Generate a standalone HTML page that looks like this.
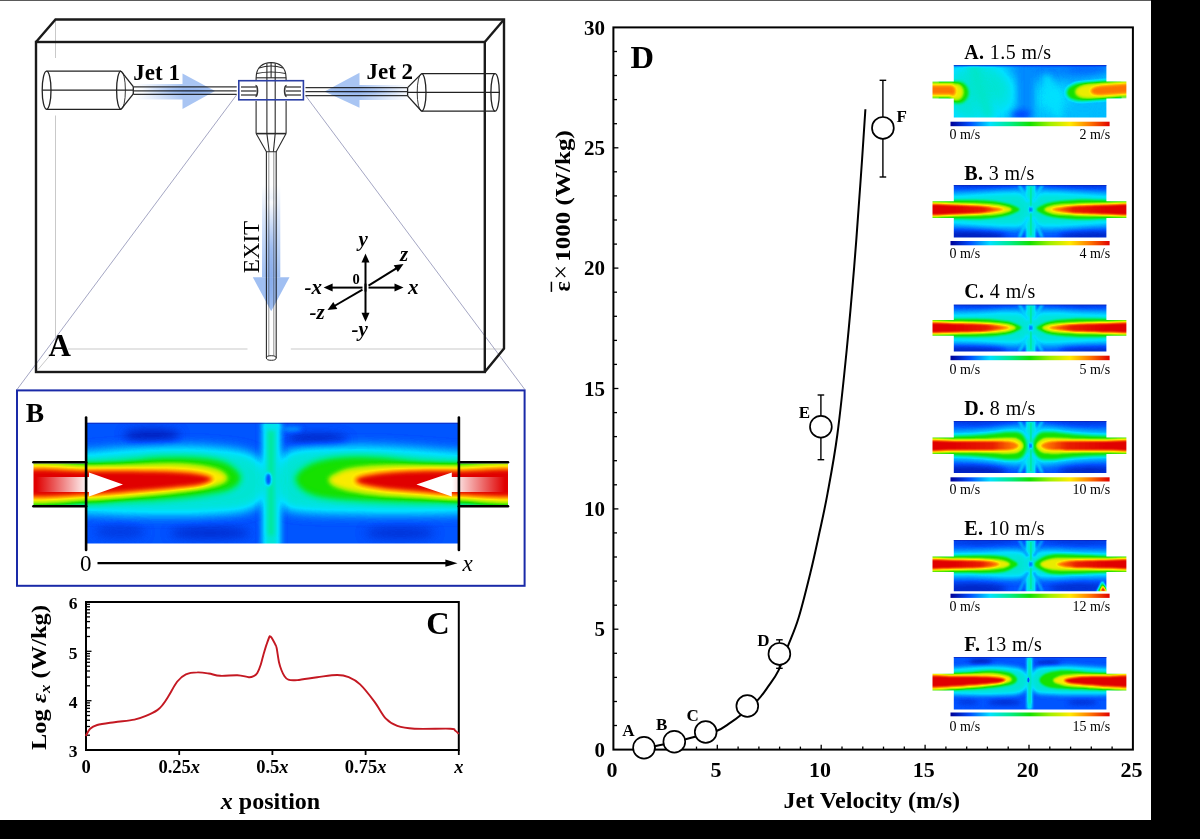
<!DOCTYPE html>
<html><head><meta charset="utf-8"><title>Figure</title>
<style>
html,body{margin:0;padding:0;background:#000;overflow:hidden}
svg{display:block}
text{font-family:"Liberation Serif","Times New Roman",serif}
.b{font-weight:bold}
.i{font-style:italic}
</style></head><body>
<svg width="1200" height="839" viewBox="0 0 1200 839">

<defs>
<filter id="cm" color-interpolation-filters="sRGB" x="0" y="0" width="100%" height="100%"><feComponentTransfer><feFuncR type="table" tableValues="0.000 0.000 0.000 0.000 0.078 0.627 1.000 1.000 0.882"/><feFuncG type="table" tableValues="0.000 0.314 0.882 0.922 0.882 0.941 0.922 0.471 0.000"/><feFuncB type="table" tableValues="0.588 1.000 1.000 0.549 0.000 0.000 0.000 0.000 0.000"/></feComponentTransfer></filter>
<filter id="b0_6ins" color-interpolation-filters="sRGB" filterUnits="userSpaceOnUse" x="-45" y="-25" width="265" height="110"><feGaussianBlur stdDeviation="0.6"/></filter>
<filter id="b0_6pa" color-interpolation-filters="sRGB" filterUnits="userSpaceOnUse" x="100" y="50" width="330" height="280"><feGaussianBlur stdDeviation="0.6"/></filter>
<filter id="b0_8ins" color-interpolation-filters="sRGB" filterUnits="userSpaceOnUse" x="-45" y="-25" width="265" height="110"><feGaussianBlur stdDeviation="0.8"/></filter>
<filter id="b1ins" color-interpolation-filters="sRGB" filterUnits="userSpaceOnUse" x="-45" y="-25" width="265" height="110"><feGaussianBlur stdDeviation="1"/></filter>
<filter id="b1_2ins" color-interpolation-filters="sRGB" filterUnits="userSpaceOnUse" x="-45" y="-25" width="265" height="110"><feGaussianBlur stdDeviation="1.2"/></filter>
<filter id="b1_3ins" color-interpolation-filters="sRGB" filterUnits="userSpaceOnUse" x="-45" y="-25" width="265" height="110"><feGaussianBlur stdDeviation="1.3"/></filter>
<filter id="b1_4ins" color-interpolation-filters="sRGB" filterUnits="userSpaceOnUse" x="-45" y="-25" width="265" height="110"><feGaussianBlur stdDeviation="1.4"/></filter>
<filter id="b1_5pa" color-interpolation-filters="sRGB" filterUnits="userSpaceOnUse" x="100" y="50" width="330" height="280"><feGaussianBlur stdDeviation="1.5"/></filter>
<filter id="b1_5pb" color-interpolation-filters="sRGB" filterUnits="userSpaceOnUse" x="0" y="380" width="560" height="225"><feGaussianBlur stdDeviation="1.5"/></filter>
<filter id="b1_8ins" color-interpolation-filters="sRGB" filterUnits="userSpaceOnUse" x="-45" y="-25" width="265" height="110"><feGaussianBlur stdDeviation="1.8"/></filter>
<filter id="b2pb" color-interpolation-filters="sRGB" filterUnits="userSpaceOnUse" x="0" y="380" width="560" height="225"><feGaussianBlur stdDeviation="2"/></filter>
<filter id="b2_5pb" color-interpolation-filters="sRGB" filterUnits="userSpaceOnUse" x="0" y="380" width="560" height="225"><feGaussianBlur stdDeviation="2.5"/></filter>
<filter id="b3ins" color-interpolation-filters="sRGB" filterUnits="userSpaceOnUse" x="-45" y="-25" width="265" height="110"><feGaussianBlur stdDeviation="3"/></filter>
<filter id="b3pb" color-interpolation-filters="sRGB" filterUnits="userSpaceOnUse" x="0" y="380" width="560" height="225"><feGaussianBlur stdDeviation="3"/></filter>
<filter id="b3_5ins" color-interpolation-filters="sRGB" filterUnits="userSpaceOnUse" x="-45" y="-25" width="265" height="110"><feGaussianBlur stdDeviation="3.5"/></filter>
<filter id="b4ins" color-interpolation-filters="sRGB" filterUnits="userSpaceOnUse" x="-45" y="-25" width="265" height="110"><feGaussianBlur stdDeviation="4"/></filter>
<filter id="b4pb" color-interpolation-filters="sRGB" filterUnits="userSpaceOnUse" x="0" y="380" width="560" height="225"><feGaussianBlur stdDeviation="4"/></filter>
<filter id="b5pb" color-interpolation-filters="sRGB" filterUnits="userSpaceOnUse" x="0" y="380" width="560" height="225"><feGaussianBlur stdDeviation="5"/></filter>
<filter id="b6pb" color-interpolation-filters="sRGB" filterUnits="userSpaceOnUse" x="0" y="380" width="560" height="225"><feGaussianBlur stdDeviation="6"/></filter>
<filter id="b7ins" color-interpolation-filters="sRGB" filterUnits="userSpaceOnUse" x="-45" y="-25" width="265" height="110"><feGaussianBlur stdDeviation="7"/></filter>

<linearGradient id="cbar" x1="0" x2="1" y1="0" y2="0"><stop offset="0.000" stop-color="rgb(0,0,150)"/><stop offset="0.125" stop-color="rgb(0,80,255)"/><stop offset="0.250" stop-color="rgb(0,225,255)"/><stop offset="0.375" stop-color="rgb(0,235,140)"/><stop offset="0.500" stop-color="rgb(20,225,0)"/><stop offset="0.625" stop-color="rgb(160,240,0)"/><stop offset="0.750" stop-color="rgb(255,235,0)"/><stop offset="0.875" stop-color="rgb(255,120,0)"/><stop offset="1.000" stop-color="rgb(225,0,0)"/></linearGradient>
<linearGradient id="ar1" x1="0" x2="1" y1="0" y2="0"><stop offset="0" stop-color="#6f9ae8" stop-opacity="0"/><stop offset="0.55" stop-color="#6f9ae8" stop-opacity="0.9"/><stop offset="1" stop-color="#6f9ae8" stop-opacity="1"/></linearGradient>
<linearGradient id="ar2" x1="1" x2="0" y1="0" y2="0"><stop offset="0" stop-color="#6f9ae8" stop-opacity="0"/><stop offset="0.55" stop-color="#6f9ae8" stop-opacity="0.9"/><stop offset="1" stop-color="#6f9ae8" stop-opacity="1"/></linearGradient>
<linearGradient id="ar3" x1="0" x2="0" y1="0" y2="1"><stop offset="0" stop-color="#6f9ae8" stop-opacity="0"/><stop offset="0.5" stop-color="#6f9ae8" stop-opacity="0.85"/><stop offset="1" stop-color="#6f9ae8" stop-opacity="1"/></linearGradient>
<linearGradient id="wa1" x1="0" x2="1" y1="0" y2="0"><stop offset="0" stop-color="#fff" stop-opacity="0"/><stop offset="0.6" stop-color="#fff" stop-opacity="1"/><stop offset="1" stop-color="#fff"/></linearGradient>
<linearGradient id="wa2" x1="1" x2="0" y1="0" y2="0"><stop offset="0" stop-color="#fff" stop-opacity="0"/><stop offset="0.6" stop-color="#fff" stop-opacity="1"/><stop offset="1" stop-color="#fff"/></linearGradient>
<marker id="ah" viewBox="0 0 10 10" refX="9" refY="5" markerWidth="5" markerHeight="5" orient="auto-start-reverse" markerUnits="strokeWidth"><path d="M0,0 L10,5 L0,10 z" fill="#000"/></marker>
</defs>
<rect x="0" y="0" width="1200" height="839" fill="#000"/>
<rect x="0" y="1" width="1151" height="819" fill="#fff"/>
<rect x="0" y="0" width="1151" height="1" fill="#5a5a5a"/>
<g stroke="#c9c9c9" stroke-width="1" fill="none">
<line x1="55.5" y1="20" x2="55.5" y2="58"/>
<line x1="55.5" y1="115.5" x2="55.5" y2="349"/>
<line x1="68" y1="349" x2="247.5" y2="349"/>
<line x1="290.8" y1="349" x2="503" y2="349"/>
<line x1="38" y1="369.5" x2="55.5" y2="349"/>
</g>
<g stroke="#9a9cbc" stroke-width="0.9" fill="none">
<line x1="236.5" y1="95" x2="17" y2="389.5"/>
<line x1="305.5" y1="95.5" x2="524.8" y2="389.5"/>
</g>
<g stroke="#1a1a1a" stroke-width="2.4" fill="none" stroke-linejoin="miter">
<rect x="36" y="42" width="448.8" height="330"/>
<polyline points="36,42 55.5,19.5 504,19.5 504,348.6 484.8,372"/>
<line x1="484.8" y1="42" x2="504" y2="19.5"/>
</g>
<g stroke="#222" stroke-width="1.3" fill="none">
<ellipse cx="46.6" cy="90.2" rx="4.4" ry="19.1"/>
<path d="M121,71.1 A4.4,19.1 0 0 0 121,109.3"/>
<path d="M121,71.1 A4.4,19.1 0 0 1 121,109.3" stroke-width="0.9"/>
<line x1="46.6" y1="71.1" x2="121" y2="71.1"/>
<line x1="46.6" y1="109.3" x2="121" y2="109.3"/>
<line x1="42.2" y1="90.2" x2="133.3" y2="90.2"/>
<line x1="121" y1="71.1" x2="133.3" y2="86.6"/>
<line x1="121" y1="109.3" x2="133.3" y2="93.9"/>
<line x1="133.3" y1="86.6" x2="133.3" y2="93.9"/>
<ellipse cx="495.1" cy="92.4" rx="4.2" ry="18.8"/>
<path d="M421.6,73.6 A4.4,18.8 0 0 0 421.6,111.2" stroke-width="0.9"/>
<path d="M421.6,73.6 A4.4,18.8 0 0 1 421.6,111.2"/>
<line x1="421.6" y1="73.6" x2="495.1" y2="73.6"/>
<line x1="421.6" y1="111.2" x2="495.1" y2="111.2"/>
<line x1="407.6" y1="92.4" x2="499.5" y2="92.4"/>
<line x1="421.6" y1="73.6" x2="407.6" y2="87.6"/>
<line x1="421.6" y1="111.2" x2="407.6" y2="95.9"/>
<line x1="407.6" y1="87.6" x2="407.6" y2="95.9"/>
</g>
<g stroke="#333" stroke-width="1.25" fill="none">
<line x1="133.3" y1="86.85" x2="236.7" y2="86.85"/>
<line x1="133.3" y1="90.80" x2="236.7" y2="90.80"/>
<line x1="133.3" y1="94.30" x2="236.7" y2="94.30"/>
<line x1="305.5" y1="87.60" x2="407.6" y2="87.60"/>
<line x1="305.5" y1="91.65" x2="407.6" y2="91.65"/>
<line x1="305.5" y1="95.50" x2="407.6" y2="95.50"/>
<line x1="241" y1="87" x2="256.5" y2="87"/>
<line x1="286" y1="87" x2="301" y2="87"/>
<line x1="241" y1="91" x2="256.5" y2="91"/>
<line x1="286" y1="91" x2="301" y2="91"/>
<line x1="241" y1="95" x2="256.5" y2="95"/>
<line x1="286" y1="95" x2="301" y2="95"/>
<path d="M255.5,85.5 A2,5.5 0 0 1 255.5,96.5" stroke-width="1.6"/>
<path d="M286.6,85.5 A2,5.5 0 0 0 286.6,96.5" stroke-width="1.6"/>
</g>
<g stroke="#2a2a2a" stroke-width="1.1" fill="none">
<path d="M256.1,80 L256.1,78 C256.1,67 263,62.6 271.1,62.6 C279.2,62.6 286.1,67 286.1,78 L286.1,80"/>
<path d="M256.1,101 L256.1,133.6 M286.1,101 L286.1,133.6"/>
<line x1="266.9" y1="63.5" x2="266.9" y2="133.6"/>
<line x1="275.2" y1="63.5" x2="275.2" y2="133.6"/>
<path d="M259,68 Q271,64 283,68"/>
<path d="M256.6,73.5 Q271,70.5 285.6,73.5"/>
<line x1="256.1" y1="77.8" x2="286.1" y2="77.8"/>
<line x1="271.1" y1="62.8" x2="271.1" y2="77.8"/>
<line x1="256.1" y1="133.6" x2="286.1" y2="133.6" stroke-width="1.6"/>
<path d="M256.1,133.6 L266.4,151.7 L276.2,151.7 L286.1,133.6"/>
<line x1="266.9" y1="133.6" x2="269.2" y2="151.7"/>
<line x1="275.2" y1="133.6" x2="273.4" y2="151.7"/>
<line x1="266.4" y1="151.7" x2="266.4" y2="358"/>
<line x1="276.2" y1="151.7" x2="276.2" y2="358"/>
</g>
<g stroke="#777" stroke-width="0.8" fill="none">
<line x1="268.8" y1="152" x2="268.8" y2="356"/>
<line x1="273.8" y1="152" x2="273.8" y2="356"/>
</g>
<ellipse cx="271.3" cy="358" rx="4.9" ry="2.3" fill="#fff" stroke="#2a2a2a" stroke-width="1"/>
<linearGradient id="sh1" x1="0" x2="1" y1="0" y2="0"><stop offset="0" stop-color="#fff"/><stop offset="0.35" stop-color="#e6eefc"/><stop offset="1" stop-color="#a9c5f3"/></linearGradient>
<linearGradient id="sh2" x1="1" x2="0" y1="0" y2="0"><stop offset="0" stop-color="#fff"/><stop offset="0.35" stop-color="#e6eefc"/><stop offset="1" stop-color="#a9c5f3"/></linearGradient>
<linearGradient id="sh3" x1="0" x2="0" y1="0" y2="1"><stop offset="0" stop-color="#fff"/><stop offset="0.3" stop-color="#dde8fb"/><stop offset="1" stop-color="#a0bff2"/></linearGradient>
<linearGradient id="ahc1" x1="0" x2="1" y1="0" y2="0"><stop offset="0" stop-color="#fff"/><stop offset="0.45" stop-color="#9dbcf0"/><stop offset="1" stop-color="#5a88de"/></linearGradient>
<linearGradient id="ahc2" x1="1" x2="0" y1="0" y2="0"><stop offset="0" stop-color="#fff"/><stop offset="0.45" stop-color="#9dbcf0"/><stop offset="1" stop-color="#5a88de"/></linearGradient>
<linearGradient id="ahc3" x1="0" x2="0" y1="0" y2="1"><stop offset="0" stop-color="#fff"/><stop offset="0.45" stop-color="#98b8f0"/><stop offset="1" stop-color="#5a88de"/></linearGradient>
<g style="mix-blend-mode:multiply">
<g filter="url(#b0_6pa)">
<rect x="135" y="84" width="48" height="15.5" fill="url(#sh1)"/>
<path d="M182.5,73.5 L215,91 L182.5,109 Z" fill="#a9c5f3"/>
<rect x="359" y="85" width="50" height="15" fill="url(#sh2)"/>
<path d="M359.5,72.8 L324.5,91.5 L359.5,107.8 Z" fill="#a9c5f3"/>
<rect x="262" y="185" width="18.3" height="92.5" fill="url(#sh3)"/>
<path d="M252.8,277.2 L289.5,277.2 L271.2,311.2 Z" fill="#a0bff2"/>
</g>
<g filter="url(#b1_5pa)">
<path d="M140,86 L214,91 L140,96 Z" fill="url(#ahc1)"/>
<path d="M410,87.5 L327,91.5 L410,96 Z" fill="url(#ahc2)"/>
<path d="M266.5,200 L271.2,309 L276,200 Z" fill="url(#ahc3)"/>
</g>
</g>
<rect x="238.8" y="80.7" width="64.6" height="19.1" fill="none" stroke="#2b3fa6" stroke-width="1.6"/>
<text class="b" x="133.3" y="80.1" font-size="23">Jet 1</text>
<text class="b" x="366.5" y="78.9" font-size="23">Jet 2</text>
<text x="0" y="0" font-size="23" transform="translate(259.3,273.2) rotate(-90)">EXIT</text>
<text class="b" x="48.6" y="355.5" font-size="31">A</text>
<g stroke="#000" stroke-width="2" fill="none">
<line x1="365.5" y1="291.6" x2="365.5" y2="261.6"/>
<path d="M365.5,253.6 L369.5,262.6 L361.5,262.6 Z" fill="#000" stroke="none"/>
<line x1="365.5" y1="283.6" x2="365.5" y2="313.7"/>
<path d="M365.5,321.7 L361.5,312.7 L369.5,312.7 Z" fill="#000" stroke="none"/>
<line x1="368.5" y1="287.6" x2="395.5" y2="287.6"/>
<path d="M403.5,287.6 L394.5,291.6 L394.5,283.6 Z" fill="#000" stroke="none"/>
<line x1="362.5" y1="287.6" x2="331.6" y2="287.6"/>
<path d="M323.6,287.6 L332.6,283.6 L332.6,291.6 Z" fill="#000" stroke="none"/>
<line x1="368.5" y1="285.6" x2="396.7" y2="268.2"/>
<path d="M403.5,264.0 L397.9,272.1 L393.7,265.3 Z" fill="#000" stroke="none"/>
<line x1="362.5" y1="289.6" x2="334.4" y2="306.0"/>
<path d="M327.5,310.0 L333.3,302.0 L337.3,308.9 Z" fill="#000" stroke="none"/>
</g>
<g font-size="21" class="b">
<text class="b i" x="358.5" y="246">y</text>
<text class="b i" x="400" y="261">z</text>
<text class="b i" x="408" y="294">x</text>
<text class="b i" x="304.5" y="294">-x</text>
<text class="b i" x="309.5" y="319">-z</text>
<text class="b i" x="351.5" y="335.5">-y</text>
<text class="b" x="352.4" y="283.7" font-size="14.5">0</text>
</g>
<rect x="17" y="390.4" width="507.6" height="195.4" fill="none" stroke="#1a2aa8" stroke-width="2"/>
<text class="b" x="25.8" y="421.7" font-size="27.5">B</text>
<clipPath id="hc1"><path d="M86.5,422.8 H458.5 V463.5 H508 V505 H458.5 V543.4 H86.5 V505 H33.5 V463.5 H86.5 V422.8 Z"/></clipPath>
<g clip-path="url(#hc1)"><g filter="url(#cm)">
<rect x="71.5" y="407.8" width="402.0" height="150.6" fill="rgb(33,33,33)"/>
<g filter="url(#b5pb)">
<ellipse cx="152.0" cy="436.0" rx="28.0" ry="7.0" fill="rgb(13,13,13)"/>
<ellipse cx="318.0" cy="440.0" rx="30.0" ry="6.0" fill="rgb(13,13,13)"/>
<ellipse cx="210.0" cy="533.0" rx="40.0" ry="6.0" fill="rgb(18,18,18)"/>
<ellipse cx="400.0" cy="533.0" rx="35.0" ry="6.0" fill="rgb(20,20,20)"/>
<ellipse cx="120.0" cy="532.0" rx="25.0" ry="6.0" fill="rgb(23,23,23)"/>
</g>
<g filter="url(#b6pb)">
<path d="M20.0,455.0 C31.0,445.3 64.3,453.3 86.0,452.0 C107.7,450.7 128.5,447.7 150.0,447.0 C171.5,446.3 197.5,446.5 215.0,448.0 C232.5,449.5 245.8,450.5 255.0,456.0 C264.2,461.5 270.0,472.5 270.0,481.0 C270.0,489.5 264.2,501.5 255.0,507.0 C245.8,512.5 232.5,512.7 215.0,514.0 C197.5,515.3 171.5,515.2 150.0,515.0 C128.5,514.8 107.7,513.8 86.0,513.0 C64.3,512.2 31.0,519.7 20.0,510.0 C9.0,500.3 9.0,464.7 20.0,455.0 Z" fill="rgb(76,76,76)"/>
<path d="M525.0,455.0 C513.8,445.3 482.2,453.3 458.0,452.0 C433.8,450.7 405.5,447.7 380.0,447.0 C354.5,446.3 321.3,446.3 305.0,448.0 C288.7,449.7 287.5,451.5 282.0,457.0 C276.5,462.5 271.8,472.8 272.0,481.0 C272.2,489.2 277.5,500.8 283.0,506.0 C288.5,511.2 288.8,510.7 305.0,512.0 C321.2,513.3 354.5,513.8 380.0,514.0 C405.5,514.2 433.8,513.7 458.0,513.0 C482.2,512.3 513.8,519.7 525.0,510.0 C536.2,500.3 536.2,464.7 525.0,455.0 Z" fill="rgb(76,76,76)"/>
</g>
<g filter="url(#b3pb)">
<rect x="263.0" y="417.8" width="17.0" height="130.6" fill="rgb(76,76,76)"/>
</g>
<g filter="url(#b2pb)">
<rect x="268.5" y="430.8" width="5.0" height="104.6" fill="rgb(94,94,94)"/>
<ellipse cx="272.0" cy="427.0" rx="9.0" ry="2.5" fill="rgb(66,66,66)"/>
<ellipse cx="292.0" cy="429.0" rx="10.0" ry="2.0" fill="rgb(51,51,51)"/>
</g>
<g filter="url(#b3pb)">
<path d="M20.0,462.0 C31.0,455.1 69.3,462.7 86.0,462.5 C102.7,462.3 107.7,461.9 120.0,461.0 C132.3,460.1 147.5,457.7 160.0,457.0 C172.5,456.3 184.2,456.2 195.0,457.0 C205.8,457.8 217.3,458.8 225.0,462.0 C232.7,465.2 239.8,471.5 241.0,476.0 C242.2,480.5 238.8,485.7 232.0,489.0 C225.2,492.3 212.0,494.2 200.0,496.0 C188.0,497.8 173.3,499.0 160.0,500.0 C146.7,501.0 132.3,501.3 120.0,502.0 C107.7,502.7 102.7,503.7 86.0,504.0 C69.3,504.3 31.0,511.0 20.0,504.0 C9.0,497.0 9.0,468.9 20.0,462.0 Z" fill="rgb(128,128,128)"/>
<path d="M525.0,462.0 C513.8,455.1 475.5,462.7 458.0,462.5 C440.5,462.3 433.0,461.9 420.0,461.0 C407.0,460.1 393.3,457.7 380.0,457.0 C366.7,456.3 351.7,455.8 340.0,457.0 C328.3,458.2 317.5,460.5 310.0,464.0 C302.5,467.5 295.8,473.3 295.0,478.0 C294.2,482.7 299.2,488.5 305.0,492.0 C310.8,495.5 317.5,497.3 330.0,499.0 C342.5,500.7 365.0,501.3 380.0,502.0 C395.0,502.7 407.0,502.8 420.0,503.0 C433.0,503.2 440.5,503.3 458.0,503.5 C475.5,503.7 513.8,510.9 525.0,504.0 C536.2,497.1 536.2,468.9 525.0,462.0 Z" fill="rgb(128,128,128)"/>
</g>
<g filter="url(#b2_5pb)">
<path d="M20.0,465.5 C31.0,459.7 67.7,465.6 86.0,465.5 C104.3,465.4 116.0,465.2 130.0,465.0 C144.0,464.8 158.3,463.8 170.0,464.0 C181.7,464.2 191.7,464.8 200.0,466.0 C208.3,467.2 215.5,469.0 220.0,471.0 C224.5,473.0 226.7,476.0 227.0,478.0 C227.3,480.0 225.7,481.3 222.0,483.0 C218.3,484.7 213.7,486.3 205.0,488.0 C196.3,489.7 182.5,491.5 170.0,493.0 C157.5,494.5 144.0,495.8 130.0,497.0 C116.0,498.2 104.3,499.4 86.0,500.0 C67.7,500.6 31.0,506.2 20.0,500.5 C9.0,494.8 9.0,471.3 20.0,465.5 Z" fill="rgb(189,189,189)"/>
<path d="M525.0,465.5 C513.8,459.7 475.5,465.5 458.0,465.5 C440.5,465.5 433.0,465.4 420.0,465.5 C407.0,465.6 391.7,465.4 380.0,466.0 C368.3,466.6 357.7,467.5 350.0,469.0 C342.3,470.5 337.5,473.2 334.0,475.0 C330.5,476.8 328.8,478.2 329.0,480.0 C329.2,481.8 331.2,484.2 335.0,486.0 C338.8,487.8 344.5,489.5 352.0,491.0 C359.5,492.5 368.7,493.9 380.0,495.0 C391.3,496.1 407.0,496.7 420.0,497.5 C433.0,498.3 440.5,499.5 458.0,500.0 C475.5,500.5 513.8,506.2 525.0,500.5 C536.2,494.8 536.2,471.3 525.0,465.5 Z" fill="rgb(189,189,189)"/>
</g>
<g filter="url(#b2_5pb)">
<path d="M20.0,470.5 C31.0,466.3 67.7,470.5 86.0,470.5 C104.3,470.5 115.2,470.3 130.0,470.5 C144.8,470.7 163.3,470.9 175.0,471.5 C186.7,472.1 193.7,472.8 200.0,474.0 C206.3,475.2 213.0,477.2 213.0,479.0 C213.0,480.8 206.3,483.5 200.0,485.0 C193.7,486.5 186.7,486.8 175.0,488.0 C163.3,489.2 144.8,490.8 130.0,492.0 C115.2,493.2 104.3,494.4 86.0,495.0 C67.7,495.6 31.0,499.6 20.0,495.5 C9.0,491.4 9.0,474.7 20.0,470.5 Z" fill="rgb(255,255,255)"/>
<path d="M525.0,470.5 C513.8,466.3 475.5,470.5 458.0,470.5 C440.5,470.5 432.2,470.2 420.0,470.5 C407.8,470.8 394.5,471.6 385.0,472.5 C375.5,473.4 368.0,474.8 363.0,476.0 C358.0,477.2 355.0,478.5 355.0,480.0 C355.0,481.5 358.0,483.5 363.0,485.0 C368.0,486.5 375.5,487.8 385.0,489.0 C394.5,490.2 407.8,491.0 420.0,492.0 C432.2,493.0 440.5,494.4 458.0,495.0 C475.5,495.6 513.8,499.6 525.0,495.5 C536.2,491.4 536.2,474.7 525.0,470.5 Z" fill="rgb(255,255,255)"/>
</g>
<g filter="url(#b1_5pb)">
<ellipse cx="268.5" cy="479.3" rx="3.0" ry="6.5" fill="rgb(31,31,31)"/>
</g>
</g></g>
<rect x="86.5" y="422.8" width="372" height="1.2" fill="#1420b0" opacity="0.6"/>
<path d="M36,477 L89,477 L89,472.6 L123,484.5 L89,496.4 L89,492 L36,492 Z" fill="url(#wa1)"/>
<path d="M505,477 L451.8,477 L451.8,472.6 L416.4,484.5 L451.8,496.4 L451.8,492 L505,492 Z" fill="url(#wa2)"/>
<g stroke="#000" stroke-width="2.6" fill="none" stroke-linecap="round">
<line x1="86.1" y1="417.5" x2="86.1" y2="550"/>
<line x1="458.9" y1="417.5" x2="458.9" y2="550"/>
<line x1="33.4" y1="462.2" x2="86.1" y2="462.2"/>
<line x1="33.4" y1="506.2" x2="86.1" y2="506.2"/>
<line x1="458.9" y1="462.2" x2="508" y2="462.2"/>
<line x1="458.9" y1="506.2" x2="508" y2="506.2"/>
</g>
<text x="80" y="571.2" font-size="23">0</text>
<line x1="97.5" y1="563.2" x2="447" y2="563.2" stroke="#000" stroke-width="2.2"/>
<path d="M457.5,563.2 L445.4,559.6 L445.4,566.8 Z" fill="#000"/>
<text class="i" x="462.5" y="570.8" font-size="23">x</text>
<g stroke="#000" stroke-width="2" fill="none">
<rect x="86" y="602" width="372.8" height="148"/>
<line x1="86" y1="735.2" x2="90.0" y2="735.2" stroke-width="1.3"/>
<line x1="86" y1="726.5" x2="90.0" y2="726.5" stroke-width="1.3"/>
<line x1="86" y1="720.3" x2="90.0" y2="720.3" stroke-width="1.3"/>
<line x1="86" y1="715.5" x2="90.0" y2="715.5" stroke-width="1.3"/>
<line x1="86" y1="711.6" x2="90.0" y2="711.6" stroke-width="1.3"/>
<line x1="86" y1="708.3" x2="90.0" y2="708.3" stroke-width="1.3"/>
<line x1="86" y1="705.5" x2="90.0" y2="705.5" stroke-width="1.3"/>
<line x1="86" y1="702.9" x2="90.0" y2="702.9" stroke-width="1.3"/>
<line x1="86" y1="700.7" x2="91.5" y2="700.7" stroke-width="1.3"/>
<line x1="86" y1="685.8" x2="90.0" y2="685.8" stroke-width="1.3"/>
<line x1="86" y1="677.1" x2="90.0" y2="677.1" stroke-width="1.3"/>
<line x1="86" y1="671.0" x2="90.0" y2="671.0" stroke-width="1.3"/>
<line x1="86" y1="666.2" x2="90.0" y2="666.2" stroke-width="1.3"/>
<line x1="86" y1="662.3" x2="90.0" y2="662.3" stroke-width="1.3"/>
<line x1="86" y1="659.0" x2="90.0" y2="659.0" stroke-width="1.3"/>
<line x1="86" y1="656.1" x2="90.0" y2="656.1" stroke-width="1.3"/>
<line x1="86" y1="653.6" x2="90.0" y2="653.6" stroke-width="1.3"/>
<line x1="86" y1="651.3" x2="91.5" y2="651.3" stroke-width="1.3"/>
<line x1="86" y1="636.5" x2="90.0" y2="636.5" stroke-width="1.3"/>
<line x1="86" y1="627.8" x2="90.0" y2="627.8" stroke-width="1.3"/>
<line x1="86" y1="621.6" x2="90.0" y2="621.6" stroke-width="1.3"/>
<line x1="86" y1="616.9" x2="90.0" y2="616.9" stroke-width="1.3"/>
<line x1="86" y1="613.0" x2="90.0" y2="613.0" stroke-width="1.3"/>
<line x1="86" y1="609.7" x2="90.0" y2="609.7" stroke-width="1.3"/>
<line x1="86" y1="606.8" x2="90.0" y2="606.8" stroke-width="1.3"/>
<line x1="86" y1="604.3" x2="90.0" y2="604.3" stroke-width="1.3"/>
<line x1="179.2" y1="750" x2="179.2" y2="755" stroke-width="1.8"/>
<line x1="272.4" y1="750" x2="272.4" y2="755" stroke-width="1.8"/>
<line x1="365.6" y1="750" x2="365.6" y2="755" stroke-width="1.8"/>
<line x1="458.8" y1="750" x2="458.8" y2="755" stroke-width="1.8"/>
</g>
<path d="M85.8,735.9 C86.5,734.7 88.2,730.5 90.1,728.7 C92.0,726.9 93.2,726.1 97.2,725.0 C101.2,723.9 108.2,723.1 114.4,722.2 C120.6,721.3 129.2,720.7 134.4,719.6 C139.7,718.5 142.1,717.5 145.9,715.9 C149.7,714.3 154.5,712.0 157.3,710.1 C160.2,708.2 161.1,706.8 163.0,704.4 C164.9,702.0 166.3,699.6 168.7,695.8 C171.1,692.0 174.4,685.1 177.3,681.5 C180.2,677.9 182.6,675.9 185.9,674.4 C189.2,672.9 193.5,672.5 197.3,672.4 C201.1,672.2 205.0,672.9 208.8,673.5 C212.6,674.1 215.4,675.5 220.2,675.8 C225.0,676.1 232.6,675.0 237.4,675.2 C242.2,675.4 246.1,677.0 248.8,677.2 C251.5,677.4 252.1,676.9 253.5,676.2 C254.9,675.5 256.1,675.0 257.3,673.0 C258.5,671.0 259.8,667.6 260.8,664.5 C261.8,661.4 262.5,657.9 263.5,654.5 C264.5,651.1 265.6,647.3 266.6,644.4 C267.6,641.5 268.7,638.3 269.3,637.0 C269.9,635.7 269.9,636.1 270.5,636.6 C271.1,637.1 272.0,638.3 272.8,639.7 C273.6,641.1 274.9,643.4 275.5,644.8 C276.1,646.2 276.1,645.4 276.7,648.3 C277.3,651.2 278.2,658.6 279.0,662.2 C279.8,665.8 280.5,667.7 281.4,670.0 C282.3,672.3 283.4,674.6 284.5,676.2 C285.6,677.8 286.2,679.1 288.3,679.7 C290.4,680.4 292.4,680.5 297.2,680.1 C302.0,679.7 310.5,678.1 317.2,677.2 C323.9,676.4 331.9,675.0 337.2,675.0 C342.4,675.0 344.9,675.6 348.7,677.2 C352.5,678.8 355.8,680.3 360.1,684.4 C364.4,688.5 370.1,695.9 374.4,701.6 C378.7,707.3 382.1,714.7 385.9,718.7 C389.7,722.8 392.5,724.2 397.3,725.9 C402.1,727.6 405.7,728.2 414.5,728.7 C423.3,729.2 443.4,728.4 450.2,728.7 C456.9,729.0 453.6,729.6 455.0,730.5 C456.4,731.4 458.2,733.3 458.8,733.9" fill="none" stroke="#c41822" stroke-width="1.9" stroke-linejoin="round"/>
<g class="b" font-size="17.5" text-anchor="end">
<text class="b" x="77.6" y="757.2">3</text>
<text class="b" x="77.6" y="707.9">4</text>
<text class="b" x="77.6" y="658.5">5</text>
<text class="b" x="77.6" y="609.2">6</text>
</g>
<g font-size="18.5" text-anchor="middle">
<text class="b" x="86.0" y="772.7">0</text>
<text class="b" x="179.2" y="772.7">0.25<tspan class="i">x</tspan></text>
<text class="b" x="272.4" y="772.7">0.5<tspan class="i">x</tspan></text>
<text class="b" x="365.6" y="772.7">0.75<tspan class="i">x</tspan></text>
<text class="b" x="458.8" y="772.7"><tspan class="i">x</tspan></text>
</g>
<text class="b" x="426.3" y="633.5" font-size="32.5">C</text>
<text class="b" x="270.5" y="808.7" font-size="24" text-anchor="middle"><tspan class="i">x</tspan> position</text>
<text class="b" font-size="22" text-anchor="middle" transform="translate(46.3,677.5) rotate(-90) scale(1.115,1)">Log <tspan class="i">ε</tspan><tspan class="i" font-size="15" dy="4">x</tspan><tspan dy="-4"> (W/kg)</tspan></text>
<g stroke="#000" stroke-width="2" fill="none">
<rect x="613.4" y="27.4" width="519.5" height="722.2"/>
<line x1="613.4" y1="725.5" x2="617.0" y2="725.5" stroke-width="1.3"/>
<line x1="613.4" y1="701.5" x2="617.0" y2="701.5" stroke-width="1.3"/>
<line x1="613.4" y1="677.4" x2="617.0" y2="677.4" stroke-width="1.3"/>
<line x1="613.4" y1="653.3" x2="617.0" y2="653.3" stroke-width="1.3"/>
<line x1="613.4" y1="629.2" x2="618.4" y2="629.2" stroke-width="1.3"/>
<line x1="613.4" y1="605.2" x2="617.0" y2="605.2" stroke-width="1.3"/>
<line x1="613.4" y1="581.1" x2="617.0" y2="581.1" stroke-width="1.3"/>
<line x1="613.4" y1="557.0" x2="617.0" y2="557.0" stroke-width="1.3"/>
<line x1="613.4" y1="532.9" x2="617.0" y2="532.9" stroke-width="1.3"/>
<line x1="613.4" y1="508.9" x2="618.4" y2="508.9" stroke-width="1.3"/>
<line x1="613.4" y1="484.8" x2="617.0" y2="484.8" stroke-width="1.3"/>
<line x1="613.4" y1="460.7" x2="617.0" y2="460.7" stroke-width="1.3"/>
<line x1="613.4" y1="436.6" x2="617.0" y2="436.6" stroke-width="1.3"/>
<line x1="613.4" y1="412.6" x2="617.0" y2="412.6" stroke-width="1.3"/>
<line x1="613.4" y1="388.5" x2="618.4" y2="388.5" stroke-width="1.3"/>
<line x1="613.4" y1="364.4" x2="617.0" y2="364.4" stroke-width="1.3"/>
<line x1="613.4" y1="340.4" x2="617.0" y2="340.4" stroke-width="1.3"/>
<line x1="613.4" y1="316.3" x2="617.0" y2="316.3" stroke-width="1.3"/>
<line x1="613.4" y1="292.2" x2="617.0" y2="292.2" stroke-width="1.3"/>
<line x1="613.4" y1="268.1" x2="618.4" y2="268.1" stroke-width="1.3"/>
<line x1="613.4" y1="244.1" x2="617.0" y2="244.1" stroke-width="1.3"/>
<line x1="613.4" y1="220.0" x2="617.0" y2="220.0" stroke-width="1.3"/>
<line x1="613.4" y1="195.9" x2="617.0" y2="195.9" stroke-width="1.3"/>
<line x1="613.4" y1="171.8" x2="617.0" y2="171.8" stroke-width="1.3"/>
<line x1="613.4" y1="147.8" x2="618.4" y2="147.8" stroke-width="1.3"/>
<line x1="613.4" y1="123.7" x2="617.0" y2="123.7" stroke-width="1.3"/>
<line x1="613.4" y1="99.6" x2="617.0" y2="99.6" stroke-width="1.3"/>
<line x1="613.4" y1="75.5" x2="617.0" y2="75.5" stroke-width="1.3"/>
<line x1="613.4" y1="51.5" x2="617.0" y2="51.5" stroke-width="1.3"/>
<line x1="634.2" y1="749.6" x2="634.2" y2="746.6" stroke-width="1.3"/>
<line x1="655.0" y1="749.6" x2="655.0" y2="746.6" stroke-width="1.3"/>
<line x1="675.7" y1="749.6" x2="675.7" y2="746.6" stroke-width="1.3"/>
<line x1="696.5" y1="749.6" x2="696.5" y2="746.6" stroke-width="1.3"/>
<line x1="717.3" y1="749.6" x2="717.3" y2="744.8" stroke-width="1.3"/>
<line x1="738.1" y1="749.6" x2="738.1" y2="746.6" stroke-width="1.3"/>
<line x1="758.9" y1="749.6" x2="758.9" y2="746.6" stroke-width="1.3"/>
<line x1="779.6" y1="749.6" x2="779.6" y2="746.6" stroke-width="1.3"/>
<line x1="800.4" y1="749.6" x2="800.4" y2="746.6" stroke-width="1.3"/>
<line x1="821.2" y1="749.6" x2="821.2" y2="744.8" stroke-width="1.3"/>
<line x1="842.0" y1="749.6" x2="842.0" y2="746.6" stroke-width="1.3"/>
<line x1="862.8" y1="749.6" x2="862.8" y2="746.6" stroke-width="1.3"/>
<line x1="883.5" y1="749.6" x2="883.5" y2="746.6" stroke-width="1.3"/>
<line x1="904.3" y1="749.6" x2="904.3" y2="746.6" stroke-width="1.3"/>
<line x1="925.1" y1="749.6" x2="925.1" y2="744.8" stroke-width="1.3"/>
<line x1="945.9" y1="749.6" x2="945.9" y2="746.6" stroke-width="1.3"/>
<line x1="966.7" y1="749.6" x2="966.7" y2="746.6" stroke-width="1.3"/>
<line x1="987.4" y1="749.6" x2="987.4" y2="746.6" stroke-width="1.3"/>
<line x1="1008.2" y1="749.6" x2="1008.2" y2="746.6" stroke-width="1.3"/>
<line x1="1029.0" y1="749.6" x2="1029.0" y2="744.8" stroke-width="1.3"/>
<line x1="1049.8" y1="749.6" x2="1049.8" y2="746.6" stroke-width="1.3"/>
<line x1="1070.6" y1="749.6" x2="1070.6" y2="746.6" stroke-width="1.3"/>
<line x1="1091.3" y1="749.6" x2="1091.3" y2="746.6" stroke-width="1.3"/>
<line x1="1112.1" y1="749.6" x2="1112.1" y2="746.6" stroke-width="1.3"/>
</g>
<g class="b" font-size="21" text-anchor="end">
<text class="b" x="605" y="756.8">0</text>
<text class="b" x="605" y="636.4">5</text>
<text class="b" x="605" y="516.1">10</text>
<text class="b" x="605" y="395.7">15</text>
<text class="b" x="605" y="275.3">20</text>
<text class="b" x="605" y="155.0">25</text>
<text class="b" x="605" y="34.6">30</text>
</g>
<g class="b" font-size="22" text-anchor="middle">
<text class="b" x="612.1" y="776.6">0</text>
<text class="b" x="716.0" y="776.6">5</text>
<text class="b" x="819.9" y="776.6">10</text>
<text class="b" x="923.8" y="776.6">15</text>
<text class="b" x="1027.7" y="776.6">20</text>
<text class="b" x="1131.6" y="776.6">25</text>
</g>
<text class="b" x="871.8" y="808.4" font-size="24.1" text-anchor="middle">Jet Velocity (m/s)</text>
<text class="b" font-size="22" transform="translate(570.3,261.8) rotate(-90) scale(1.14,1)">1000 (W/kg)</text>
<text font-size="26" text-anchor="middle" dominant-baseline="central" transform="translate(560,272.2) rotate(-90)">×</text>
<text class="b" font-size="24" text-anchor="middle" dominant-baseline="central" transform="translate(561.5,286.4) rotate(-90)">ε</text>
<line x1="551.4" y1="281.7" x2="551.4" y2="291.9" stroke="#000" stroke-width="1.5"/>
<line x1="0" y1="0" x2="0" y2="0"/>
<text class="b" x="630.5" y="67.5" font-size="32.5">D</text>
<path d="M650.0,747.2 C652.4,746.7 658.6,745.5 664.3,744.2 C670.0,743.0 678.6,741.0 684.0,739.7 C689.4,738.4 691.0,737.7 696.5,736.2 C702.0,734.7 711.6,732.9 717.0,730.8 C722.4,728.7 725.0,726.4 729.0,723.7 C733.0,721.0 736.4,718.7 741.2,714.7 C746.0,710.7 753.3,704.7 757.9,699.9 C762.5,695.1 765.2,690.7 768.6,685.9 C772.0,681.1 775.1,677.5 778.3,670.9 C781.5,664.3 784.5,655.1 787.9,646.2 C791.3,637.4 794.9,630.0 798.6,617.8 C802.4,605.6 806.8,587.4 810.4,572.8 C814.0,558.2 817.1,543.2 820.0,530.0 C822.9,516.8 824.6,509.4 827.5,493.6 C830.4,477.8 834.1,458.9 837.3,435.0 C840.5,411.1 843.9,378.1 846.7,350.0 C849.5,321.9 851.9,294.5 854.2,266.7 C856.5,238.9 858.5,209.6 860.4,183.3 C862.3,157.1 864.6,121.6 865.4,109.2" fill="none" stroke="#000" stroke-width="2"/>
<g stroke="#000" stroke-width="1.4" fill="none">
<line x1="882.9" y1="80.3" x2="882.9" y2="177"/>
<line x1="879.6" y1="80.3" x2="886.2" y2="80.3"/>
<line x1="879.6" y1="177" x2="886.2" y2="177"/>
<line x1="820.9" y1="395" x2="820.9" y2="459.7"/>
<line x1="817.6" y1="395" x2="824.2" y2="395"/>
<line x1="817.6" y1="459.7" x2="824.2" y2="459.7"/>
<line x1="779.4" y1="639.8" x2="779.4" y2="668.3"/>
<line x1="776.1" y1="639.8" x2="782.7" y2="639.8"/>
<line x1="776.1" y1="668.3" x2="782.7" y2="668.3"/>
</g>
<g fill="#fff" stroke="#000" stroke-width="1.7">
<circle cx="644" cy="747.7" r="10.9"/>
<circle cx="674.3" cy="741.7" r="10.9"/>
<circle cx="705.7" cy="732" r="10.9"/>
<circle cx="747.3" cy="706" r="10.9"/>
<circle cx="779.4" cy="653.9" r="10.9"/>
<circle cx="820.9" cy="426.7" r="10.9"/>
<circle cx="882.9" cy="127.9" r="10.9"/>
</g>
<g class="b" font-size="17" text-anchor="middle">
<text class="b" x="628.3" y="735.5">A</text>
<text class="b" x="661.7" y="729.8">B</text>
<text class="b" x="692.7" y="720.5">C</text>
<text class="b" x="763.3" y="645.5">D</text>
<text class="b" x="804.3" y="418.2">E</text>
<text class="b" x="901.7" y="122.2">F</text>
</g>
<g transform="translate(953.8,65.1)">
<clipPath id="hc2"><path d="M0,0 H152.6 V16.4 H172.7 V33.5 H152.6 V52.4 H0 V33.5 H-21.3 V16.4 H0 Z"/></clipPath>
<g clip-path="url(#hc2)"><g filter="url(#cm)">
<rect x="-15.0" y="-15.0" width="182.6" height="82.4" fill="rgb(56,56,56)"/>
<g filter="url(#b7ins)">
<ellipse cx="25.0" cy="28.0" rx="34.0" ry="30.0" fill="rgb(76,76,76)"/>
<ellipse cx="100.0" cy="4.0" rx="45.0" ry="9.0" fill="rgb(41,41,41)"/>
<ellipse cx="130.0" cy="44.0" rx="30.0" ry="10.0" fill="rgb(56,56,56)"/>
<ellipse cx="98.0" cy="32.0" rx="16.0" ry="14.0" fill="rgb(66,66,66)"/>
<ellipse cx="40.0" cy="45.0" rx="20.0" ry="8.0" fill="rgb(66,66,66)"/>
</g>
<g filter="url(#b3ins)">
<path d="M14,0 L24,0 L40,52 L30,52 Z" fill="rgb(79,79,79)"/>
<path d="M88,10 L96,10 L110,52 L100,52 Z" fill="rgb(64,64,64)"/>
</g>
<g filter="url(#b3ins)">
<rect x="64.0" y="-2.0" width="16.0" height="56.4" fill="rgb(45,45,45)"/>
<ellipse cx="67.0" cy="50.0" rx="10.0" ry="5.0" fill="rgb(29,29,29)"/>
<ellipse cx="135.0" cy="4.0" rx="22.0" ry="5.0" fill="rgb(38,38,38)"/>
</g>
<g filter="url(#b1ins)">
<rect x="-1.0" y="-1.0" width="154.6" height="1.8" fill="rgb(23,23,23)"/>
</g>
<g filter="url(#b1_8ins)">
<rect x="-30.0" y="15.9" width="31.0" height="18.1" fill="rgb(128,128,128)"/>
<ellipse cx="4.0" cy="27.5" rx="11.0" ry="11.0" fill="rgb(128,128,128)"/>
<g transform="rotate(-4 152.6 25.0)"><path d="M182.6,15.6 L128.6,15.6 C119.8,15.6 112.6,19.8 112.6,25.0 C112.6,30.1 119.8,34.3 128.6,34.3 L182.6,34.3 Z" fill="rgb(128,128,128)"/></g>
</g>
<g filter="url(#b1_4ins)">
<rect x="-30.0" y="18.2" width="30.0" height="13.5" fill="rgb(184,184,184)"/>
<ellipse cx="2.5" cy="27.0" rx="7.0" ry="8.0" fill="rgb(184,184,184)"/>
<g transform="rotate(-4 152.6 25.0)"><path d="M182.6,18.0 L135.6,18.0 C127.9,18.0 121.6,21.1 121.6,25.0 C121.6,28.8 127.9,31.9 135.6,31.9 L182.6,31.9 Z" fill="rgb(184,184,184)"/></g>
</g>
<g filter="url(#b1_4ins)">
<rect x="-30.0" y="20.2" width="29.0" height="9.5" fill="rgb(224,224,224)"/>
<ellipse cx="-1.0" cy="26.0" rx="3.0" ry="4.7" fill="rgb(224,224,224)"/>
<g transform="rotate(-4 152.6 25.0)"><path d="M182.6,20.0 L148.6,20.0 C142.0,20.0 136.6,22.2 136.6,25.0 C136.6,27.7 142.0,29.9 148.6,29.9 L182.6,29.9 Z" fill="rgb(224,224,224)"/></g>
</g>
</g></g>
<rect x="0" y="0" width="152.6" height="1" fill="#1018a8" opacity="0.55"/>
</g>
<rect x="950.5" y="121.7" width="159.1" height="4.5" fill="url(#cbar)"/>
<text x="964.2" y="59.0" font-size="20" letter-spacing="0.4"><tspan class="b">A.</tspan> 1.5 m/s</text>
<text x="949.4" y="139.2" font-size="14">0 m/s</text>
<text x="1110.2" y="139.2" font-size="14" text-anchor="end">2 m/s</text>
<g transform="translate(953.8,185.1)">
<linearGradient id="lg1" gradientUnits="userSpaceOnUse" x1="0.0" y1="0.0" x2="50.0" y2="0.0"><stop offset="0.000" stop-color="rgb(255,255,255)"/><stop offset="0.600" stop-color="rgb(247,247,247)"/><stop offset="1.000" stop-color="rgb(217,217,217)"/></linearGradient>
<linearGradient id="lg2" gradientUnits="userSpaceOnUse" x1="152.6" y1="0.0" x2="97.6" y2="0.0"><stop offset="0.000" stop-color="rgb(255,255,255)"/><stop offset="0.600" stop-color="rgb(247,247,247)"/><stop offset="1.000" stop-color="rgb(217,217,217)"/></linearGradient>
<clipPath id="hc3"><path d="M0,0 H152.6 V16.1 H172.7 V32.8 H152.6 V52.4 H0 V32.8 H-21.3 V16.1 H0 Z"/></clipPath>
<g clip-path="url(#hc3)"><g filter="url(#cm)">
<rect x="-15.0" y="-15.0" width="182.6" height="82.4" fill="rgb(33,33,33)"/>
<g filter="url(#b3ins)">
<ellipse cx="18.0" cy="50.4" rx="35.0" ry="6.0" fill="rgb(13,13,13)"/>
<ellipse cx="135.0" cy="50.4" rx="30.0" ry="5.0" fill="rgb(15,15,15)"/>
<ellipse cx="30.0" cy="1.0" rx="35.0" ry="3.0" fill="rgb(18,18,18)"/>
<ellipse cx="125.0" cy="1.0" rx="35.0" ry="3.0" fill="rgb(18,18,18)"/>
</g>
<g filter="url(#b4ins)">
<path d="M-30.0,10.1 C-25.0,5.2 -10.0,9.6 0.0,9.1 C10.0,8.6 20.8,7.6 30.0,7.1 C39.2,6.6 48.0,5.9 55.0,6.1 C62.0,6.3 68.3,5.0 72.0,8.1 C75.7,11.2 77.0,19.0 77.0,24.5 C77.0,29.9 75.7,37.7 72.0,40.8 C68.3,43.9 62.0,42.6 55.0,42.8 C48.0,43.0 39.2,42.3 30.0,41.8 C20.8,41.3 10.0,40.3 0.0,39.8 C-10.0,39.3 -25.0,43.8 -30.0,38.8 C-35.0,33.9 -35.0,15.1 -30.0,10.1 Z" fill="rgb(76,76,76)"/>
<path d="M182.6,10.1 C177.6,5.2 162.6,9.6 152.6,9.1 C142.6,8.6 131.8,7.6 122.6,7.1 C113.4,6.6 104.6,5.9 97.6,6.1 C90.6,6.3 84.3,5.0 80.6,8.1 C76.9,11.2 75.6,19.0 75.6,24.5 C75.6,29.9 76.9,37.7 80.6,40.8 C84.3,43.9 90.6,42.6 97.6,42.8 C104.6,43.0 113.4,42.3 122.6,41.8 C131.8,41.3 142.6,40.3 152.6,39.8 C162.6,39.3 177.6,43.8 182.6,38.8 C187.6,33.9 187.6,15.1 182.6,10.1 Z" fill="rgb(76,76,76)"/>
</g>
<g filter="url(#b1_2ins)">
<rect x="72.5" y="-2.0" width="9.0" height="56.4" fill="rgb(74,74,74)"/>
<path d="M73,17.45 L64,0 L67,0 L76,16.45 Z" fill="rgb(61,61,61)"/>
<path d="M81,17.45 L90,0 L87,0 L78,16.45 Z" fill="rgb(61,61,61)"/>
<path d="M73,31.45 L64,52.4 L67,52.4 L76,32.45 Z" fill="rgb(61,61,61)"/>
<path d="M81,31.45 L90,52.4 L87,52.4 L78,32.45 Z" fill="rgb(61,61,61)"/>
</g>
<g filter="url(#b0_6ins)">
<rect x="76.3" y="2.0" width="1.6" height="48.4" fill="rgb(92,92,92)"/>
</g>
<g filter="url(#b1_3ins)">
<path d="M-30.0,15.3 C-25.0,12.2 -10.0,14.9 0.0,14.9 C10.0,14.9 21.7,14.7 30.0,15.1 C38.3,15.6 45.0,16.7 50.0,17.6 C55.0,18.5 57.3,19.3 60.0,20.5 C62.7,21.6 66.0,23.1 66.0,24.5 C66.0,25.8 62.7,27.3 60.0,28.5 C57.3,29.6 55.0,30.4 50.0,31.3 C45.0,32.2 38.3,33.4 30.0,33.8 C21.7,34.3 10.0,34.0 0.0,34.0 C-10.0,34.0 -25.0,36.7 -30.0,33.6 C-35.0,30.5 -35.0,18.4 -30.0,15.3 Z" fill="rgb(128,128,128)"/>
<path d="M182.6,15.3 C177.6,12.2 162.6,15.0 152.6,14.9 C142.6,14.8 131.8,14.2 122.6,14.6 C113.4,15.0 103.4,16.1 97.6,17.1 C91.8,18.1 90.1,19.2 87.6,20.5 C85.1,21.7 82.6,23.1 82.6,24.5 C82.6,25.8 85.1,27.2 87.6,28.5 C90.1,29.7 91.8,30.8 97.6,31.8 C103.4,32.8 113.4,33.9 122.6,34.3 C131.8,34.7 142.6,34.1 152.6,34.0 C162.6,33.9 177.6,36.7 182.6,33.6 C187.6,30.5 187.6,18.4 182.6,15.3 Z" fill="rgb(128,128,128)"/>
</g>
<g filter="url(#b1_2ins)">
<path d="M-30.0,17.9 C-25.0,15.7 -10.0,17.7 0.0,17.9 C10.0,18.1 22.0,18.5 30.0,18.9 C38.0,19.4 43.3,19.7 48.0,20.6 C52.7,21.5 58.0,23.2 58.0,24.5 C58.0,25.7 52.7,27.4 48.0,28.3 C43.3,29.2 38.0,29.6 30.0,30.0 C22.0,30.5 10.0,30.8 0.0,31.0 C-10.0,31.2 -25.0,33.2 -30.0,31.0 C-35.0,28.8 -35.0,20.1 -30.0,17.9 Z" fill="rgb(184,184,184)"/>
<path d="M182.6,17.9 C177.6,15.7 162.6,17.8 152.6,17.9 C142.6,18.0 131.3,18.2 122.6,18.6 C113.9,19.0 105.9,19.1 100.6,20.1 C95.3,21.1 90.6,23.0 90.6,24.5 C90.6,25.9 95.3,27.8 100.6,28.8 C105.9,29.8 113.9,29.9 122.6,30.3 C131.3,30.7 142.6,30.9 152.6,31.0 C162.6,31.1 177.6,33.2 182.6,31.0 C187.6,28.8 187.6,20.1 182.6,17.9 Z" fill="rgb(184,184,184)"/>
</g>
<g filter="url(#b1_2ins)">
<path d="M-30.0,19.6 C-25.0,18.0 -9.2,19.4 0.0,19.6 C9.2,19.8 18.0,20.1 25.0,20.6 C32.0,21.1 37.8,21.8 42.0,22.5 C46.2,23.1 50.0,23.8 50.0,24.5 C50.0,25.1 46.2,25.8 42.0,26.5 C37.8,27.1 32.0,27.8 25.0,28.3 C18.0,28.8 9.2,29.1 0.0,29.3 C-9.2,29.5 -25.0,30.9 -30.0,29.3 C-35.0,27.7 -35.0,21.2 -30.0,19.6 Z" fill="url(#lg1)"/>
<path d="M182.6,19.6 C177.6,18.0 162.6,19.4 152.6,19.6 C142.6,19.8 130.6,20.1 122.6,20.6 C114.6,21.1 108.8,21.8 104.6,22.5 C100.4,23.1 97.6,23.8 97.6,24.5 C97.6,25.1 100.4,25.8 104.6,26.5 C108.8,27.1 114.6,27.8 122.6,28.3 C130.6,28.8 142.6,29.1 152.6,29.3 C162.6,29.5 177.6,30.9 182.6,29.3 C187.6,27.7 187.6,21.2 182.6,19.6 Z" fill="url(#lg2)"/>
</g>
<g filter="url(#b0_8ins)">
<ellipse cx="77.0" cy="24.5" rx="1.5" ry="3.2" fill="rgb(26,26,26)"/>
</g>
</g></g>
<rect x="0" y="0" width="152.6" height="1" fill="#1018a8" opacity="0.55"/>
</g>
<rect x="950.5" y="241.0" width="159.1" height="4.3" fill="url(#cbar)"/>
<text x="964.2" y="179.7" font-size="20" letter-spacing="0.4"><tspan class="b">B.</tspan> 3 m/s</text>
<text x="949.4" y="258.2" font-size="14">0 m/s</text>
<text x="1110.2" y="258.2" font-size="14" text-anchor="end">4 m/s</text>
<g transform="translate(953.8,304.5)">
<linearGradient id="lg3" gradientUnits="userSpaceOnUse" x1="0.0" y1="0.0" x2="56.0" y2="0.0"><stop offset="0.000" stop-color="rgb(255,255,255)"/><stop offset="0.600" stop-color="rgb(247,247,247)"/><stop offset="1.000" stop-color="rgb(217,217,217)"/></linearGradient>
<linearGradient id="lg4" gradientUnits="userSpaceOnUse" x1="152.6" y1="0.0" x2="94.6" y2="0.0"><stop offset="0.000" stop-color="rgb(255,255,255)"/><stop offset="0.600" stop-color="rgb(247,247,247)"/><stop offset="1.000" stop-color="rgb(217,217,217)"/></linearGradient>
<clipPath id="hc4"><path d="M0,0 H152.6 V15.4 H172.7 V31.2 H152.6 V47.1 H0 V31.2 H-21.3 V15.4 H0 Z"/></clipPath>
<g clip-path="url(#hc4)"><g filter="url(#cm)">
<rect x="-15.0" y="-15.0" width="182.6" height="77.1" fill="rgb(33,33,33)"/>
<g filter="url(#b3ins)">
<ellipse cx="18.0" cy="45.1" rx="35.0" ry="6.0" fill="rgb(13,13,13)"/>
<ellipse cx="135.0" cy="45.1" rx="30.0" ry="5.0" fill="rgb(15,15,15)"/>
<ellipse cx="30.0" cy="1.0" rx="35.0" ry="3.0" fill="rgb(18,18,18)"/>
<ellipse cx="125.0" cy="1.0" rx="35.0" ry="3.0" fill="rgb(18,18,18)"/>
</g>
<g filter="url(#b4ins)">
<path d="M-30.0,9.4 C-25.0,4.6 -10.0,8.7 0.0,8.4 C10.0,8.1 20.8,7.7 30.0,7.4 C39.2,7.1 48.0,6.2 55.0,6.4 C62.0,6.6 68.3,5.6 72.0,8.4 C75.7,11.2 77.0,18.3 77.0,23.3 C77.0,28.3 75.7,35.4 72.0,38.2 C68.3,41.0 62.0,40.0 55.0,40.2 C48.0,40.4 39.2,39.5 30.0,39.2 C20.8,38.9 10.0,38.5 0.0,38.2 C-10.0,37.9 -25.0,42.0 -30.0,37.2 C-35.0,32.4 -35.0,14.2 -30.0,9.4 Z" fill="rgb(76,76,76)"/>
<path d="M182.6,9.4 C177.6,4.6 162.6,8.7 152.6,8.4 C142.6,8.1 131.8,7.7 122.6,7.4 C113.4,7.1 104.6,6.2 97.6,6.4 C90.6,6.6 84.3,5.6 80.6,8.4 C76.9,11.2 75.6,18.3 75.6,23.3 C75.6,28.3 76.9,35.4 80.6,38.2 C84.3,41.0 90.6,40.0 97.6,40.2 C104.6,40.4 113.4,39.5 122.6,39.2 C131.8,38.9 142.6,38.5 152.6,38.2 C162.6,37.9 177.6,42.0 182.6,37.2 C187.6,32.4 187.6,14.2 182.6,9.4 Z" fill="rgb(76,76,76)"/>
</g>
<g filter="url(#b1_2ins)">
<rect x="72.5" y="-2.0" width="9.0" height="51.1" fill="rgb(74,74,74)"/>
<path d="M73,16.3 L64,0 L67,0 L76,15.3 Z" fill="rgb(61,61,61)"/>
<path d="M81,16.3 L90,0 L87,0 L78,15.3 Z" fill="rgb(61,61,61)"/>
<path d="M73,30.3 L64,47.1 L67,47.1 L76,31.3 Z" fill="rgb(61,61,61)"/>
<path d="M81,30.3 L90,47.1 L87,47.1 L78,31.3 Z" fill="rgb(61,61,61)"/>
</g>
<g filter="url(#b0_6ins)">
<rect x="76.3" y="2.0" width="1.6" height="43.1" fill="rgb(92,92,92)"/>
</g>
<g filter="url(#b1_3ins)">
<path d="M-30.0,14.6 C-25.0,11.6 -10.0,14.2 0.0,14.2 C10.0,14.2 21.3,14.0 30.0,14.4 C38.7,14.8 46.7,15.6 52.0,16.4 C57.3,17.2 59.3,18.1 62.0,19.3 C64.7,20.4 68.0,22.0 68.0,23.3 C68.0,24.6 64.7,26.1 62.0,27.3 C59.3,28.4 57.3,29.4 52.0,30.2 C46.7,31.0 38.7,31.8 30.0,32.2 C21.3,32.6 10.0,32.4 0.0,32.4 C-10.0,32.4 -25.0,35.0 -30.0,32.0 C-35.0,29.0 -35.0,17.6 -30.0,14.6 Z" fill="rgb(128,128,128)"/>
<path d="M182.6,14.6 C177.6,11.6 162.6,14.3 152.6,14.2 C142.6,14.1 131.8,13.7 122.6,14.1 C113.4,14.5 103.3,15.5 97.6,16.4 C91.9,17.3 91.1,18.1 88.6,19.3 C86.1,20.4 82.6,22.0 82.6,23.3 C82.6,24.6 86.1,26.1 88.6,27.3 C91.1,28.4 91.9,29.3 97.6,30.2 C103.3,31.1 113.4,32.1 122.6,32.5 C131.8,32.9 142.6,32.5 152.6,32.4 C162.6,32.3 177.6,35.0 182.6,32.0 C187.6,29.0 187.6,17.6 182.6,14.6 Z" fill="rgb(128,128,128)"/>
</g>
<g filter="url(#b1_2ins)">
<path d="M-30.0,17.2 C-25.0,15.2 -10.0,17.1 0.0,17.2 C10.0,17.3 21.3,17.5 30.0,17.9 C38.7,18.3 46.7,18.5 52.0,19.4 C57.3,20.3 62.0,22.0 62.0,23.3 C62.0,24.6 57.3,26.3 52.0,27.2 C46.7,28.1 38.7,28.3 30.0,28.7 C21.3,29.1 10.0,29.3 0.0,29.4 C-10.0,29.5 -25.0,31.4 -30.0,29.4 C-35.0,27.4 -35.0,19.2 -30.0,17.2 Z" fill="rgb(184,184,184)"/>
<path d="M182.6,17.2 C177.6,15.2 162.6,17.1 152.6,17.2 C142.6,17.3 131.6,17.5 122.6,17.9 C113.6,18.3 104.3,18.5 98.6,19.4 C92.9,20.3 88.6,22.0 88.6,23.3 C88.6,24.6 92.9,26.3 98.6,27.2 C104.3,28.1 113.6,28.3 122.6,28.7 C131.6,29.1 142.6,29.3 152.6,29.4 C162.6,29.5 177.6,31.4 182.6,29.4 C187.6,27.4 187.6,19.2 182.6,17.2 Z" fill="rgb(184,184,184)"/>
</g>
<g filter="url(#b1_2ins)">
<path d="M-30.0,18.7 C-25.0,17.2 -10.0,18.6 0.0,18.7 C10.0,18.8 22.0,19.0 30.0,19.4 C38.0,19.8 43.7,20.6 48.0,21.3 C52.3,21.9 56.0,22.6 56.0,23.3 C56.0,24.0 52.3,24.6 48.0,25.3 C43.7,25.9 38.0,26.8 30.0,27.2 C22.0,27.6 10.0,27.8 0.0,27.9 C-10.0,28.0 -25.0,29.4 -30.0,27.9 C-35.0,26.4 -35.0,20.2 -30.0,18.7 Z" fill="url(#lg3)"/>
<path d="M182.6,18.7 C177.6,17.2 162.6,18.6 152.6,18.7 C142.6,18.8 130.9,19.0 122.6,19.4 C114.3,19.8 107.3,20.6 102.6,21.3 C97.9,21.9 94.6,22.6 94.6,23.3 C94.6,24.0 97.9,24.6 102.6,25.3 C107.3,25.9 114.3,26.8 122.6,27.2 C130.9,27.6 142.6,27.8 152.6,27.9 C162.6,28.0 177.6,29.4 182.6,27.9 C187.6,26.4 187.6,20.2 182.6,18.7 Z" fill="url(#lg4)"/>
</g>
<g filter="url(#b0_8ins)">
<ellipse cx="77.0" cy="23.3" rx="1.5" ry="3.2" fill="rgb(26,26,26)"/>
</g>
</g></g>
<rect x="0" y="0" width="152.6" height="1" fill="#1018a8" opacity="0.55"/>
</g>
<rect x="950.5" y="355.7" width="159.1" height="4.5" fill="url(#cbar)"/>
<text x="964.2" y="298.0" font-size="20" letter-spacing="0.4"><tspan class="b">C.</tspan> 4 m/s</text>
<text x="949.4" y="373.5" font-size="14">0 m/s</text>
<text x="1110.2" y="373.5" font-size="14" text-anchor="end">5 m/s</text>
<g transform="translate(953.8,421.0)">
<linearGradient id="lg5" gradientUnits="userSpaceOnUse" x1="0.0" y1="0.0" x2="65.0" y2="0.0"><stop offset="0.000" stop-color="rgb(255,255,255)"/><stop offset="0.600" stop-color="rgb(247,247,247)"/><stop offset="1.000" stop-color="rgb(217,217,217)"/></linearGradient>
<linearGradient id="lg6" gradientUnits="userSpaceOnUse" x1="152.6" y1="0.0" x2="87.1" y2="0.0"><stop offset="0.000" stop-color="rgb(255,255,255)"/><stop offset="0.600" stop-color="rgb(247,247,247)"/><stop offset="1.000" stop-color="rgb(217,217,217)"/></linearGradient>
<clipPath id="hc5"><path d="M0,0 H152.6 V16.5 H172.7 V33.0 H152.6 V52.0 H0 V33.0 H-21.3 V16.5 H0 Z"/></clipPath>
<g clip-path="url(#hc5)"><g filter="url(#cm)">
<rect x="-15.0" y="-15.0" width="182.6" height="82.0" fill="rgb(33,33,33)"/>
<g filter="url(#b3ins)">
<ellipse cx="18.0" cy="50.0" rx="35.0" ry="6.0" fill="rgb(13,13,13)"/>
<ellipse cx="135.0" cy="50.0" rx="30.0" ry="5.0" fill="rgb(15,15,15)"/>
<ellipse cx="30.0" cy="1.0" rx="35.0" ry="3.0" fill="rgb(20,20,20)"/>
<ellipse cx="125.0" cy="1.0" rx="35.0" ry="3.0" fill="rgb(20,20,20)"/>
</g>
<g filter="url(#b4ins)">
<path d="M-30.0,11.5 C-25.0,7.1 -10.0,11.8 0.0,11.5 C10.0,11.2 20.0,10.8 30.0,10.0 C40.0,9.2 52.7,6.6 60.0,6.5 C67.3,6.4 71.2,6.5 74.0,9.5 C76.8,12.5 77.0,19.7 77.0,24.8 C77.0,29.8 76.8,37.0 74.0,40.0 C71.2,43.0 67.3,43.1 60.0,43.0 C52.7,42.9 40.0,40.3 30.0,39.5 C20.0,38.7 10.0,38.2 0.0,38.0 C-10.0,37.8 -25.0,42.4 -30.0,38.0 C-35.0,33.6 -35.0,15.9 -30.0,11.5 Z" fill="rgb(76,76,76)"/>
<path d="M182.6,11.5 C177.6,7.1 162.6,11.8 152.6,11.5 C142.6,11.2 132.6,10.8 122.6,10.0 C112.6,9.2 99.9,6.6 92.6,6.5 C85.3,6.4 81.4,6.5 78.6,9.5 C75.8,12.5 75.6,19.7 75.6,24.8 C75.6,29.8 75.8,37.0 78.6,40.0 C81.4,43.0 85.3,43.1 92.6,43.0 C99.9,42.9 112.6,40.3 122.6,39.5 C132.6,38.7 142.6,38.2 152.6,38.0 C162.6,37.8 177.6,42.4 182.6,38.0 C187.6,33.6 187.6,15.9 182.6,11.5 Z" fill="rgb(76,76,76)"/>
</g>
<g filter="url(#b1_2ins)">
<rect x="72.5" y="-2.0" width="9.0" height="56.0" fill="rgb(74,74,74)"/>
<path d="M73,17.75 L64,0 L67,0 L76,16.75 Z" fill="rgb(61,61,61)"/>
<path d="M81,17.75 L90,0 L87,0 L78,16.75 Z" fill="rgb(61,61,61)"/>
<path d="M73,31.75 L64,52 L67,52 L76,32.75 Z" fill="rgb(61,61,61)"/>
<path d="M81,31.75 L90,52 L87,52 L78,32.75 Z" fill="rgb(61,61,61)"/>
</g>
<g filter="url(#b0_6ins)">
<rect x="76.3" y="2.0" width="1.6" height="48.0" fill="rgb(92,92,92)"/>
</g>
<g filter="url(#b1_4ins)">
<path d="M-30.0,15.5 C-25.0,12.3 -10.0,15.3 0.0,15.0 C10.0,14.7 20.8,14.2 30.0,13.5 C39.2,12.8 48.7,11.1 55.0,11.0 C61.3,10.9 65.0,10.7 68.0,13.0 C71.0,15.3 73.0,20.8 73.0,24.8 C73.0,28.7 71.0,34.2 68.0,36.5 C65.0,38.8 61.3,38.6 55.0,38.5 C48.7,38.4 39.2,36.7 30.0,36.0 C20.8,35.3 10.0,34.8 0.0,34.5 C-10.0,34.2 -25.0,37.2 -30.0,34.0 C-35.0,30.8 -35.0,18.7 -30.0,15.5 Z" fill="rgb(128,128,128)"/>
<path d="M182.6,15.5 C177.6,12.3 162.6,15.3 152.6,15.0 C142.6,14.7 131.8,14.2 122.6,13.5 C113.4,12.8 103.9,11.1 97.6,11.0 C91.3,10.9 87.7,10.7 84.6,13.0 C81.5,15.3 79.1,20.8 79.1,24.8 C79.1,28.7 81.5,34.2 84.6,36.5 C87.7,38.8 91.3,38.6 97.6,38.5 C103.9,38.4 113.4,36.7 122.6,36.0 C131.8,35.3 142.6,34.8 152.6,34.5 C162.6,34.2 177.6,37.2 182.6,34.0 C187.6,30.8 187.6,18.7 182.6,15.5 Z" fill="rgb(128,128,128)"/>
</g>
<g filter="url(#b1_2ins)">
<path d="M-30.0,18.3 C-25.0,16.2 -10.0,18.3 0.0,18.3 C10.0,18.3 20.8,18.3 30.0,18.1 C39.2,17.9 49.2,17.0 55.0,17.1 C60.8,17.2 62.6,17.4 65.0,18.7 C67.4,20.0 69.5,22.7 69.5,24.8 C69.5,26.8 67.4,29.5 65.0,30.8 C62.6,32.1 60.8,32.3 55.0,32.4 C49.2,32.5 39.2,31.6 30.0,31.4 C20.8,31.2 10.0,31.2 0.0,31.2 C-10.0,31.2 -25.0,33.4 -30.0,31.2 C-35.0,29.1 -35.0,20.4 -30.0,18.3 Z" fill="rgb(184,184,184)"/>
<path d="M182.6,18.3 C177.6,16.2 162.6,18.3 152.6,18.3 C142.6,18.3 131.8,18.3 122.6,18.1 C113.4,17.9 103.4,17.0 97.6,17.1 C91.8,17.2 90.1,17.4 87.6,18.7 C85.1,20.0 82.6,22.7 82.6,24.8 C82.6,26.8 85.1,29.5 87.6,30.8 C90.1,32.1 91.8,32.3 97.6,32.4 C103.4,32.5 113.4,31.6 122.6,31.4 C131.8,31.2 142.6,31.2 152.6,31.2 C162.6,31.2 177.6,33.4 182.6,31.2 C187.6,29.1 187.6,20.4 182.6,18.3 Z" fill="rgb(184,184,184)"/>
</g>
<g filter="url(#b1_2ins)">
<path d="M-30.0,20.0 C-25.0,18.4 -11.7,20.0 0.0,20.0 C11.7,20.0 30.3,20.0 40.0,20.1 C49.7,20.3 53.8,20.0 58.0,20.8 C62.2,21.5 65.0,23.4 65.0,24.8 C65.0,26.1 62.2,28.0 58.0,28.8 C53.8,29.5 49.7,29.2 40.0,29.4 C30.3,29.5 11.7,29.5 0.0,29.5 C-11.7,29.5 -25.0,31.1 -30.0,29.5 C-35.0,27.9 -35.0,21.6 -30.0,20.0 Z" fill="url(#lg5)"/>
<path d="M182.6,20.0 C177.6,18.4 164.3,20.0 152.6,20.0 C140.9,20.0 122.3,20.0 112.6,20.1 C102.9,20.3 98.9,20.0 94.6,20.8 C90.4,21.5 87.1,23.4 87.1,24.8 C87.1,26.1 90.4,28.0 94.6,28.8 C98.9,29.5 102.9,29.2 112.6,29.4 C122.3,29.5 140.9,29.5 152.6,29.5 C164.3,29.5 177.6,31.1 182.6,29.5 C187.6,27.9 187.6,21.6 182.6,20.0 Z" fill="url(#lg6)"/>
</g>
<g filter="url(#b0_8ins)">
<ellipse cx="77.0" cy="24.8" rx="1.5" ry="3.2" fill="rgb(26,26,26)"/>
</g>
</g></g>
<rect x="0" y="0" width="152.6" height="1" fill="#1018a8" opacity="0.55"/>
</g>
<rect x="950.5" y="477.3" width="159.1" height="4.2" fill="url(#cbar)"/>
<text x="964.2" y="415.0" font-size="20" letter-spacing="0.4"><tspan class="b">D.</tspan> 8 m/s</text>
<text x="949.4" y="493.7" font-size="14">0 m/s</text>
<text x="1110.2" y="493.7" font-size="14" text-anchor="end">10 m/s</text>
<g transform="translate(953.8,540.0)">
<linearGradient id="lg7" gradientUnits="userSpaceOnUse" x1="0.0" y1="0.0" x2="46.0" y2="0.0"><stop offset="0.000" stop-color="rgb(255,255,255)"/><stop offset="0.600" stop-color="rgb(247,247,247)"/><stop offset="1.000" stop-color="rgb(217,217,217)"/></linearGradient>
<linearGradient id="lg8" gradientUnits="userSpaceOnUse" x1="152.6" y1="0.0" x2="102.6" y2="0.0"><stop offset="0.000" stop-color="rgb(255,255,255)"/><stop offset="0.600" stop-color="rgb(247,247,247)"/><stop offset="1.000" stop-color="rgb(217,217,217)"/></linearGradient>
<clipPath id="hc6"><path d="M0,0 H152.6 V16.5 H172.7 V32.0 H152.6 V51.2 H0 V32.0 H-21.3 V16.5 H0 Z"/></clipPath>
<g clip-path="url(#hc6)"><g filter="url(#cm)">
<rect x="-15.0" y="-15.0" width="182.6" height="81.2" fill="rgb(33,33,33)"/>
<g filter="url(#b3ins)">
<ellipse cx="18.0" cy="49.2" rx="35.0" ry="6.0" fill="rgb(15,15,15)"/>
<ellipse cx="125.0" cy="48.2" rx="30.0" ry="5.0" fill="rgb(18,18,18)"/>
<ellipse cx="30.0" cy="1.0" rx="35.0" ry="3.0" fill="rgb(20,20,20)"/>
<ellipse cx="125.0" cy="1.0" rx="35.0" ry="3.0" fill="rgb(20,20,20)"/>
</g>
<g filter="url(#b3_5ins)">
<path d="M-30.0,12.0 C-25.0,7.9 -10.0,12.1 0.0,12.0 C10.0,11.9 20.8,11.8 30.0,11.5 C39.2,11.2 48.0,10.3 55.0,10.5 C62.0,10.7 68.5,10.2 72.0,12.5 C75.5,14.8 76.0,20.3 76.0,24.2 C76.0,28.2 75.5,33.7 72.0,36.0 C68.5,38.3 62.0,37.8 55.0,38.0 C48.0,38.2 39.2,37.2 30.0,37.0 C20.8,36.8 10.0,36.6 0.0,36.5 C-10.0,36.4 -25.0,40.6 -30.0,36.5 C-35.0,32.4 -35.0,16.1 -30.0,12.0 Z" fill="rgb(76,76,76)"/>
<path d="M182.6,12.0 C177.6,7.9 162.6,12.1 152.6,12.0 C142.6,11.9 131.8,11.8 122.6,11.5 C113.4,11.2 104.6,10.3 97.6,10.5 C90.6,10.7 84.1,10.2 80.6,12.5 C77.1,14.8 76.6,20.3 76.6,24.2 C76.6,28.2 77.1,33.7 80.6,36.0 C84.1,38.3 90.6,37.8 97.6,38.0 C104.6,38.2 113.4,37.2 122.6,37.0 C131.8,36.8 142.6,36.6 152.6,36.5 C162.6,36.4 177.6,40.6 182.6,36.5 C187.6,32.4 187.6,16.1 182.6,12.0 Z" fill="rgb(76,76,76)"/>
</g>
<g filter="url(#b1_2ins)">
<rect x="72.5" y="-2.0" width="9.0" height="55.2" fill="rgb(74,74,74)"/>
<path d="M73,17.25 L64,0 L67,0 L76,16.25 Z" fill="rgb(51,51,51)"/>
<path d="M81,17.25 L90,0 L87,0 L78,16.25 Z" fill="rgb(51,51,51)"/>
<path d="M73,31.25 L64,51.2 L67,51.2 L76,32.25 Z" fill="rgb(51,51,51)"/>
<path d="M81,31.25 L90,51.2 L87,51.2 L78,32.25 Z" fill="rgb(51,51,51)"/>
</g>
<g filter="url(#b0_6ins)">
<rect x="76.3" y="2.0" width="1.6" height="47.2" fill="rgb(92,92,92)"/>
</g>
<g filter="url(#b1_3ins)">
<path d="M-30.0,16.0 C-25.0,13.2 -10.0,15.8 0.0,15.7 C10.0,15.6 21.7,15.2 30.0,15.3 C38.3,15.4 45.0,15.6 50.0,16.5 C55.0,17.4 57.7,19.5 60.0,20.8 C62.3,22.0 64.0,23.1 64.0,24.2 C64.0,25.4 62.3,26.5 60.0,27.8 C57.7,29.0 55.0,31.1 50.0,32.0 C45.0,32.9 38.3,33.1 30.0,33.2 C21.7,33.3 10.0,32.9 0.0,32.8 C-10.0,32.7 -25.0,35.3 -30.0,32.5 C-35.0,29.7 -35.0,18.8 -30.0,16.0 Z" fill="rgb(128,128,128)"/>
<path d="M182.6,16.0 C177.6,13.2 162.6,15.9 152.6,15.7 C142.6,15.4 131.8,14.7 122.6,14.5 C113.4,14.3 103.9,13.6 97.6,14.5 C91.3,15.4 87.4,18.1 84.6,19.8 C81.8,21.4 80.6,22.8 80.6,24.2 C80.6,25.8 81.8,27.1 84.6,28.8 C87.4,30.4 91.3,33.1 97.6,34.0 C103.9,34.9 113.4,34.2 122.6,34.0 C131.8,33.8 142.6,33.0 152.6,32.8 C162.6,32.5 177.6,35.3 182.6,32.5 C187.6,29.7 187.6,18.8 182.6,16.0 Z" fill="rgb(128,128,128)"/>
</g>
<g filter="url(#b1_2ins)">
<path d="M-30.0,18.3 C-25.0,16.3 -10.0,18.2 0.0,18.3 C10.0,18.4 22.0,18.4 30.0,18.8 C38.0,19.2 43.7,19.6 48.0,20.5 C52.3,21.4 56.0,23.0 56.0,24.2 C56.0,25.5 52.3,27.1 48.0,28.0 C43.7,28.9 38.0,29.3 30.0,29.7 C22.0,30.1 10.0,30.1 0.0,30.2 C-10.0,30.3 -25.0,32.2 -30.0,30.2 C-35.0,28.2 -35.0,20.3 -30.0,18.3 Z" fill="rgb(184,184,184)"/>
<path d="M182.6,18.3 C177.6,16.3 162.6,18.3 152.6,18.3 C142.6,18.3 131.8,18.2 122.6,18.3 C113.4,18.4 103.6,18.0 97.6,19.0 C91.6,20.0 86.6,22.5 86.6,24.2 C86.6,26.0 91.6,28.5 97.6,29.5 C103.6,30.5 113.4,30.1 122.6,30.2 C131.8,30.3 142.6,30.2 152.6,30.2 C162.6,30.2 177.6,32.2 182.6,30.2 C187.6,28.2 187.6,20.3 182.6,18.3 Z" fill="rgb(184,184,184)"/>
</g>
<g filter="url(#b1_2ins)">
<path d="M-30.0,20.0 C-25.0,18.6 -9.2,19.9 0.0,20.0 C9.2,20.1 18.3,20.2 25.0,20.5 C31.7,20.8 36.5,21.1 40.0,21.8 C43.5,22.4 46.0,23.4 46.0,24.2 C46.0,25.1 43.5,26.1 40.0,26.8 C36.5,27.4 31.7,27.7 25.0,28.0 C18.3,28.3 9.2,28.4 0.0,28.5 C-9.2,28.6 -25.0,29.9 -30.0,28.5 C-35.0,27.1 -35.0,21.4 -30.0,20.0 Z" fill="url(#lg7)"/>
<path d="M182.6,20.0 C177.6,18.6 161.8,19.9 152.6,20.0 C143.4,20.1 134.3,20.3 127.6,20.5 C120.9,20.7 116.8,20.6 112.6,21.2 C108.4,21.9 102.6,23.2 102.6,24.2 C102.6,25.2 108.4,26.6 112.6,27.2 C116.8,27.9 120.9,27.8 127.6,28.0 C134.3,28.2 143.4,28.4 152.6,28.5 C161.8,28.6 177.6,29.9 182.6,28.5 C187.6,27.1 187.6,21.4 182.6,20.0 Z" fill="url(#lg8)"/>
</g>
<g filter="url(#b0_8ins)">
<ellipse cx="77.0" cy="24.2" rx="1.5" ry="3.2" fill="rgb(26,26,26)"/>
</g>
<g filter="url(#b1ins)">
<path d="M142.6,52.2 L148.6,41.2 L154.6,52.2 Z" fill="rgb(115,115,115)"/>
<path d="M145.6,52.2 L149.1,45.2 L153.6,52.2 Z" fill="rgb(250,250,250)"/>
</g>
</g></g>
<rect x="0" y="0" width="152.6" height="1" fill="#1018a8" opacity="0.55"/>
</g>
<rect x="950.5" y="593.7" width="159.1" height="4.2" fill="url(#cbar)"/>
<text x="964.2" y="534.8" font-size="20" letter-spacing="0.4"><tspan class="b">E.</tspan> 10 m/s</text>
<text x="949.4" y="610.8" font-size="14">0 m/s</text>
<text x="1110.2" y="610.8" font-size="14" text-anchor="end">12 m/s</text>
<g transform="translate(953.8,657.0)">
<clipPath id="hc7"><path d="M0,0 H152.6 V16.7 H172.7 V33.5 H152.6 V52.5 H0 V33.5 H-21.3 V16.7 H0 Z"/></clipPath>
<g clip-path="url(#hc7)"><g filter="url(#cm)">
<rect x="-15.0" y="-15.0" width="182.6" height="82.5" fill="rgb(33,33,33)"/>
<g transform="translate(-35.48,-178.28) scale(0.4102,0.4200)">
<g filter="url(#b5pb)">
<ellipse cx="152.0" cy="436.0" rx="28.0" ry="7.0" fill="rgb(13,13,13)"/>
<ellipse cx="318.0" cy="440.0" rx="30.0" ry="6.0" fill="rgb(13,13,13)"/>
<ellipse cx="210.0" cy="533.0" rx="40.0" ry="6.0" fill="rgb(18,18,18)"/>
<ellipse cx="400.0" cy="533.0" rx="35.0" ry="6.0" fill="rgb(20,20,20)"/>
<ellipse cx="120.0" cy="532.0" rx="25.0" ry="6.0" fill="rgb(23,23,23)"/>
</g>
<g filter="url(#b6pb)">
<path d="M20.0,455.0 C31.0,445.3 64.3,453.3 86.0,452.0 C107.7,450.7 128.5,447.7 150.0,447.0 C171.5,446.3 197.5,446.5 215.0,448.0 C232.5,449.5 245.8,450.5 255.0,456.0 C264.2,461.5 270.0,472.5 270.0,481.0 C270.0,489.5 264.2,501.5 255.0,507.0 C245.8,512.5 232.5,512.7 215.0,514.0 C197.5,515.3 171.5,515.2 150.0,515.0 C128.5,514.8 107.7,513.8 86.0,513.0 C64.3,512.2 31.0,519.7 20.0,510.0 C9.0,500.3 9.0,464.7 20.0,455.0 Z" fill="rgb(76,76,76)"/>
<path d="M525.0,455.0 C513.8,445.3 482.2,453.3 458.0,452.0 C433.8,450.7 405.5,447.7 380.0,447.0 C354.5,446.3 321.3,446.3 305.0,448.0 C288.7,449.7 287.5,451.5 282.0,457.0 C276.5,462.5 271.8,472.8 272.0,481.0 C272.2,489.2 277.5,500.8 283.0,506.0 C288.5,511.2 288.8,510.7 305.0,512.0 C321.2,513.3 354.5,513.8 380.0,514.0 C405.5,514.2 433.8,513.7 458.0,513.0 C482.2,512.3 513.8,519.7 525.0,510.0 C536.2,500.3 536.2,464.7 525.0,455.0 Z" fill="rgb(76,76,76)"/>
</g>
<g filter="url(#b4pb)">
<rect x="265.0" y="417.0" width="12.0" height="132.0" fill="rgb(74,74,74)"/>
</g>
<g filter="url(#b2_5pb)">
<rect x="269.5" y="431.0" width="4.0" height="104.0" fill="rgb(92,92,92)"/>
</g>
<g filter="url(#b3pb)">
<path d="M20.0,462.0 C31.0,455.1 69.3,462.7 86.0,462.5 C102.7,462.3 107.7,461.9 120.0,461.0 C132.3,460.1 147.5,457.7 160.0,457.0 C172.5,456.3 184.2,456.2 195.0,457.0 C205.8,457.8 217.3,458.8 225.0,462.0 C232.7,465.2 239.8,471.5 241.0,476.0 C242.2,480.5 238.8,485.7 232.0,489.0 C225.2,492.3 212.0,494.2 200.0,496.0 C188.0,497.8 173.3,499.0 160.0,500.0 C146.7,501.0 132.3,501.3 120.0,502.0 C107.7,502.7 102.7,503.7 86.0,504.0 C69.3,504.3 31.0,511.0 20.0,504.0 C9.0,497.0 9.0,468.9 20.0,462.0 Z" fill="rgb(128,128,128)"/>
<path d="M525.0,462.0 C513.8,455.1 475.5,462.7 458.0,462.5 C440.5,462.3 433.0,461.9 420.0,461.0 C407.0,460.1 393.3,457.7 380.0,457.0 C366.7,456.3 351.7,455.8 340.0,457.0 C328.3,458.2 317.5,460.5 310.0,464.0 C302.5,467.5 295.8,473.3 295.0,478.0 C294.2,482.7 299.2,488.5 305.0,492.0 C310.8,495.5 317.5,497.3 330.0,499.0 C342.5,500.7 365.0,501.3 380.0,502.0 C395.0,502.7 407.0,502.8 420.0,503.0 C433.0,503.2 440.5,503.3 458.0,503.5 C475.5,503.7 513.8,510.9 525.0,504.0 C536.2,497.1 536.2,468.9 525.0,462.0 Z" fill="rgb(128,128,128)"/>
</g>
<g filter="url(#b2_5pb)">
<path d="M20.0,465.5 C31.0,459.7 67.7,465.6 86.0,465.5 C104.3,465.4 116.0,465.2 130.0,465.0 C144.0,464.8 158.3,463.8 170.0,464.0 C181.7,464.2 191.7,464.8 200.0,466.0 C208.3,467.2 215.5,469.0 220.0,471.0 C224.5,473.0 226.7,476.0 227.0,478.0 C227.3,480.0 225.7,481.3 222.0,483.0 C218.3,484.7 213.7,486.3 205.0,488.0 C196.3,489.7 182.5,491.5 170.0,493.0 C157.5,494.5 144.0,495.8 130.0,497.0 C116.0,498.2 104.3,499.4 86.0,500.0 C67.7,500.6 31.0,506.2 20.0,500.5 C9.0,494.8 9.0,471.3 20.0,465.5 Z" fill="rgb(189,189,189)"/>
<path d="M525.0,465.5 C513.8,459.7 475.5,465.5 458.0,465.5 C440.5,465.5 433.0,465.4 420.0,465.5 C407.0,465.6 391.7,465.4 380.0,466.0 C368.3,466.6 357.7,467.5 350.0,469.0 C342.3,470.5 337.5,473.2 334.0,475.0 C330.5,476.8 328.8,478.2 329.0,480.0 C329.2,481.8 331.2,484.2 335.0,486.0 C338.8,487.8 344.5,489.5 352.0,491.0 C359.5,492.5 368.7,493.9 380.0,495.0 C391.3,496.1 407.0,496.7 420.0,497.5 C433.0,498.3 440.5,499.5 458.0,500.0 C475.5,500.5 513.8,506.2 525.0,500.5 C536.2,494.8 536.2,471.3 525.0,465.5 Z" fill="rgb(189,189,189)"/>
</g>
<g filter="url(#b2_5pb)">
<path d="M20.0,470.5 C31.0,466.3 67.7,470.5 86.0,470.5 C104.3,470.5 115.2,470.3 130.0,470.5 C144.8,470.7 163.3,470.9 175.0,471.5 C186.7,472.1 193.7,472.8 200.0,474.0 C206.3,475.2 213.0,477.2 213.0,479.0 C213.0,480.8 206.3,483.5 200.0,485.0 C193.7,486.5 186.7,486.8 175.0,488.0 C163.3,489.2 144.8,490.8 130.0,492.0 C115.2,493.2 104.3,494.4 86.0,495.0 C67.7,495.6 31.0,499.6 20.0,495.5 C9.0,491.4 9.0,474.7 20.0,470.5 Z" fill="rgb(255,255,255)"/>
<path d="M525.0,470.5 C513.8,466.3 475.5,470.5 458.0,470.5 C440.5,470.5 432.2,470.2 420.0,470.5 C407.8,470.8 394.5,471.6 385.0,472.5 C375.5,473.4 368.0,474.8 363.0,476.0 C358.0,477.2 355.0,478.5 355.0,480.0 C355.0,481.5 358.0,483.5 363.0,485.0 C368.0,486.5 375.5,487.8 385.0,489.0 C394.5,490.2 407.8,491.0 420.0,492.0 C432.2,493.0 440.5,494.4 458.0,495.0 C475.5,495.6 513.8,499.6 525.0,495.5 C536.2,491.4 536.2,474.7 525.0,470.5 Z" fill="rgb(255,255,255)"/>
</g>
<g filter="url(#b1_5pb)">
<ellipse cx="268.5" cy="479.3" rx="3.0" ry="6.5" fill="rgb(31,31,31)"/>
</g>
</g>
</g></g>
<rect x="0" y="0" width="152.6" height="1" fill="#1018a8" opacity="0.55"/>
</g>
<rect x="950.5" y="712.5" width="159.1" height="3.8" fill="url(#cbar)"/>
<text x="964.2" y="651.2" font-size="20" letter-spacing="0.4"><tspan class="b">F.</tspan> 13 m/s</text>
<text x="949.4" y="731.3" font-size="14">0 m/s</text>
<text x="1110.2" y="731.3" font-size="14" text-anchor="end">15 m/s</text>
</svg></body></html>
